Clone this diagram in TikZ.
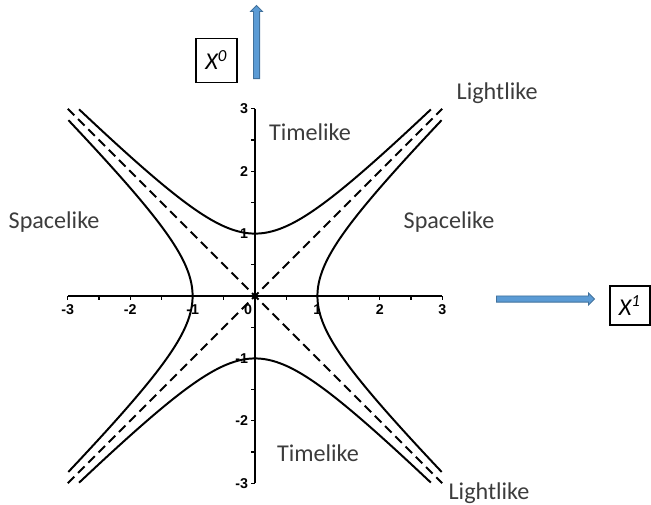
\documentclass[tikz,border=0pt]{standalone}
\usepackage{fontspec}
\setmainfont{Carlito}
\newfontfamily\tickfont{Liberation Sans}
\usepackage{tikz}
\usetikzlibrary{shapes.arrows, arrows.meta, positioning}
\definecolor{arrowfill}{HTML}{5B9BD5}
\definecolor{arrowedge}{HTML}{41719C}
\definecolor{labelgray}{HTML}{3C3C3C}
\tikzset{
  region/.style    = {font=\fontsize{11}{13}\selectfont, text=labelgray, inner sep=0pt},
  axisbox/.style   = {rectangle, draw, line width=0.5pt, fill=white, inner sep=0pt,
                      font=\fontsize{11}{13}\selectfont\itshape},
  blockarrow/.style = {single arrow, draw=arrowedge, fill=arrowfill, line width=0.4pt,
                       inner sep=1.2pt, single arrow head extend=1.3pt, minimum width=0pt},
  hyper/.style     = {line width=0.9pt},
  cone/.style      = {line width=0.9pt, dash pattern=on 4.2pt off 2.4pt},
  axisline/.style  = {line width=0.6pt},
  ticklabel/.style = {font=\tickfont\bfseries\fontsize{6.5}{7}\selectfont, inner sep=1pt},
}

\begin{document}
\begin{tikzpicture}
    \useasboundingbox (-4.087,-3.349) rectangle (6.346,4.744);

    %% Axes with ticks
    \draw[axisline] (-3,0) -- (3,0);
    \draw[axisline] (0,-3) -- (0,3);
    \foreach \t in {-3,-2.5,...,3} {
      \draw[axisline] (\t,0) -- (\t,-0.065);
      \draw[axisline] (0,\t) -- (-0.065,\t);
    }
    \foreach \t [count=\i] in {-3,-2,-1,1,2,3} {
      \node[ticklabel, below] (xt\i) at (\t,-0.09) {\t};
      \node[ticklabel, left]  (yt\i) at (-0.07,\t) {\t};
    }
    \node[ticklabel, below] (xt0) at (-0.11,-0.09) {0};

    %% Light cone
    \draw[cone] (-3,-3) -- (3,3);
    \draw[cone] (-3,3) -- (3,-3);

    %% Hyperbolas
    \draw[hyper] plot[domain=-1.76:1.76, samples=60, smooth] ({cosh(\x)},{sinh(\x)});
    \draw[hyper] plot[domain=-1.76:1.76, samples=60, smooth] ({-cosh(\x)},{sinh(\x)});
    \draw[hyper] plot[domain=-1.76:1.76, samples=60, smooth] ({sinh(\x)},{cosh(\x)});
    \draw[hyper] plot[domain=-1.76:1.76, samples=60, smooth] ({sinh(\x)},{-cosh(\x)});

    %% Region labels
    \node[region] (timeup)     at ( 0.88,  2.63) {Timelike};
    \node[region] (timedown)   at ( 1.01, -2.52) {Timelike};
    \node[region] (spaceleft)  at (-3.22,  1.19) {Spacelike};
    \node[region] (spaceright) at ( 3.11,  1.19) {Spacelike};
    \node[region] (lightup)    at ( 3.88,  3.25) {Lightlike};
    \node[region] (lightdown)  at ( 3.75, -3.16) {Lightlike};

    %% Axis names
    \node[axisbox, minimum width=0.657cm, minimum height=0.705cm]
          (xzero) at (-0.617, 3.78) {X\textsuperscript{0}};
    \node[axisbox, minimum width=0.641cm, minimum height=0.625cm]
          (xone)  at ( 6.01, -0.152) {X\textsuperscript{1}};
    \node[blockarrow, rotate=90, minimum height=1.17cm] (uparrow)    at (0.024, 4.045) {};
    \node[blockarrow, minimum height=1.57cm]            (rightarrow) at (4.63, -0.048) {};

\end{tikzpicture}
\end{document}
